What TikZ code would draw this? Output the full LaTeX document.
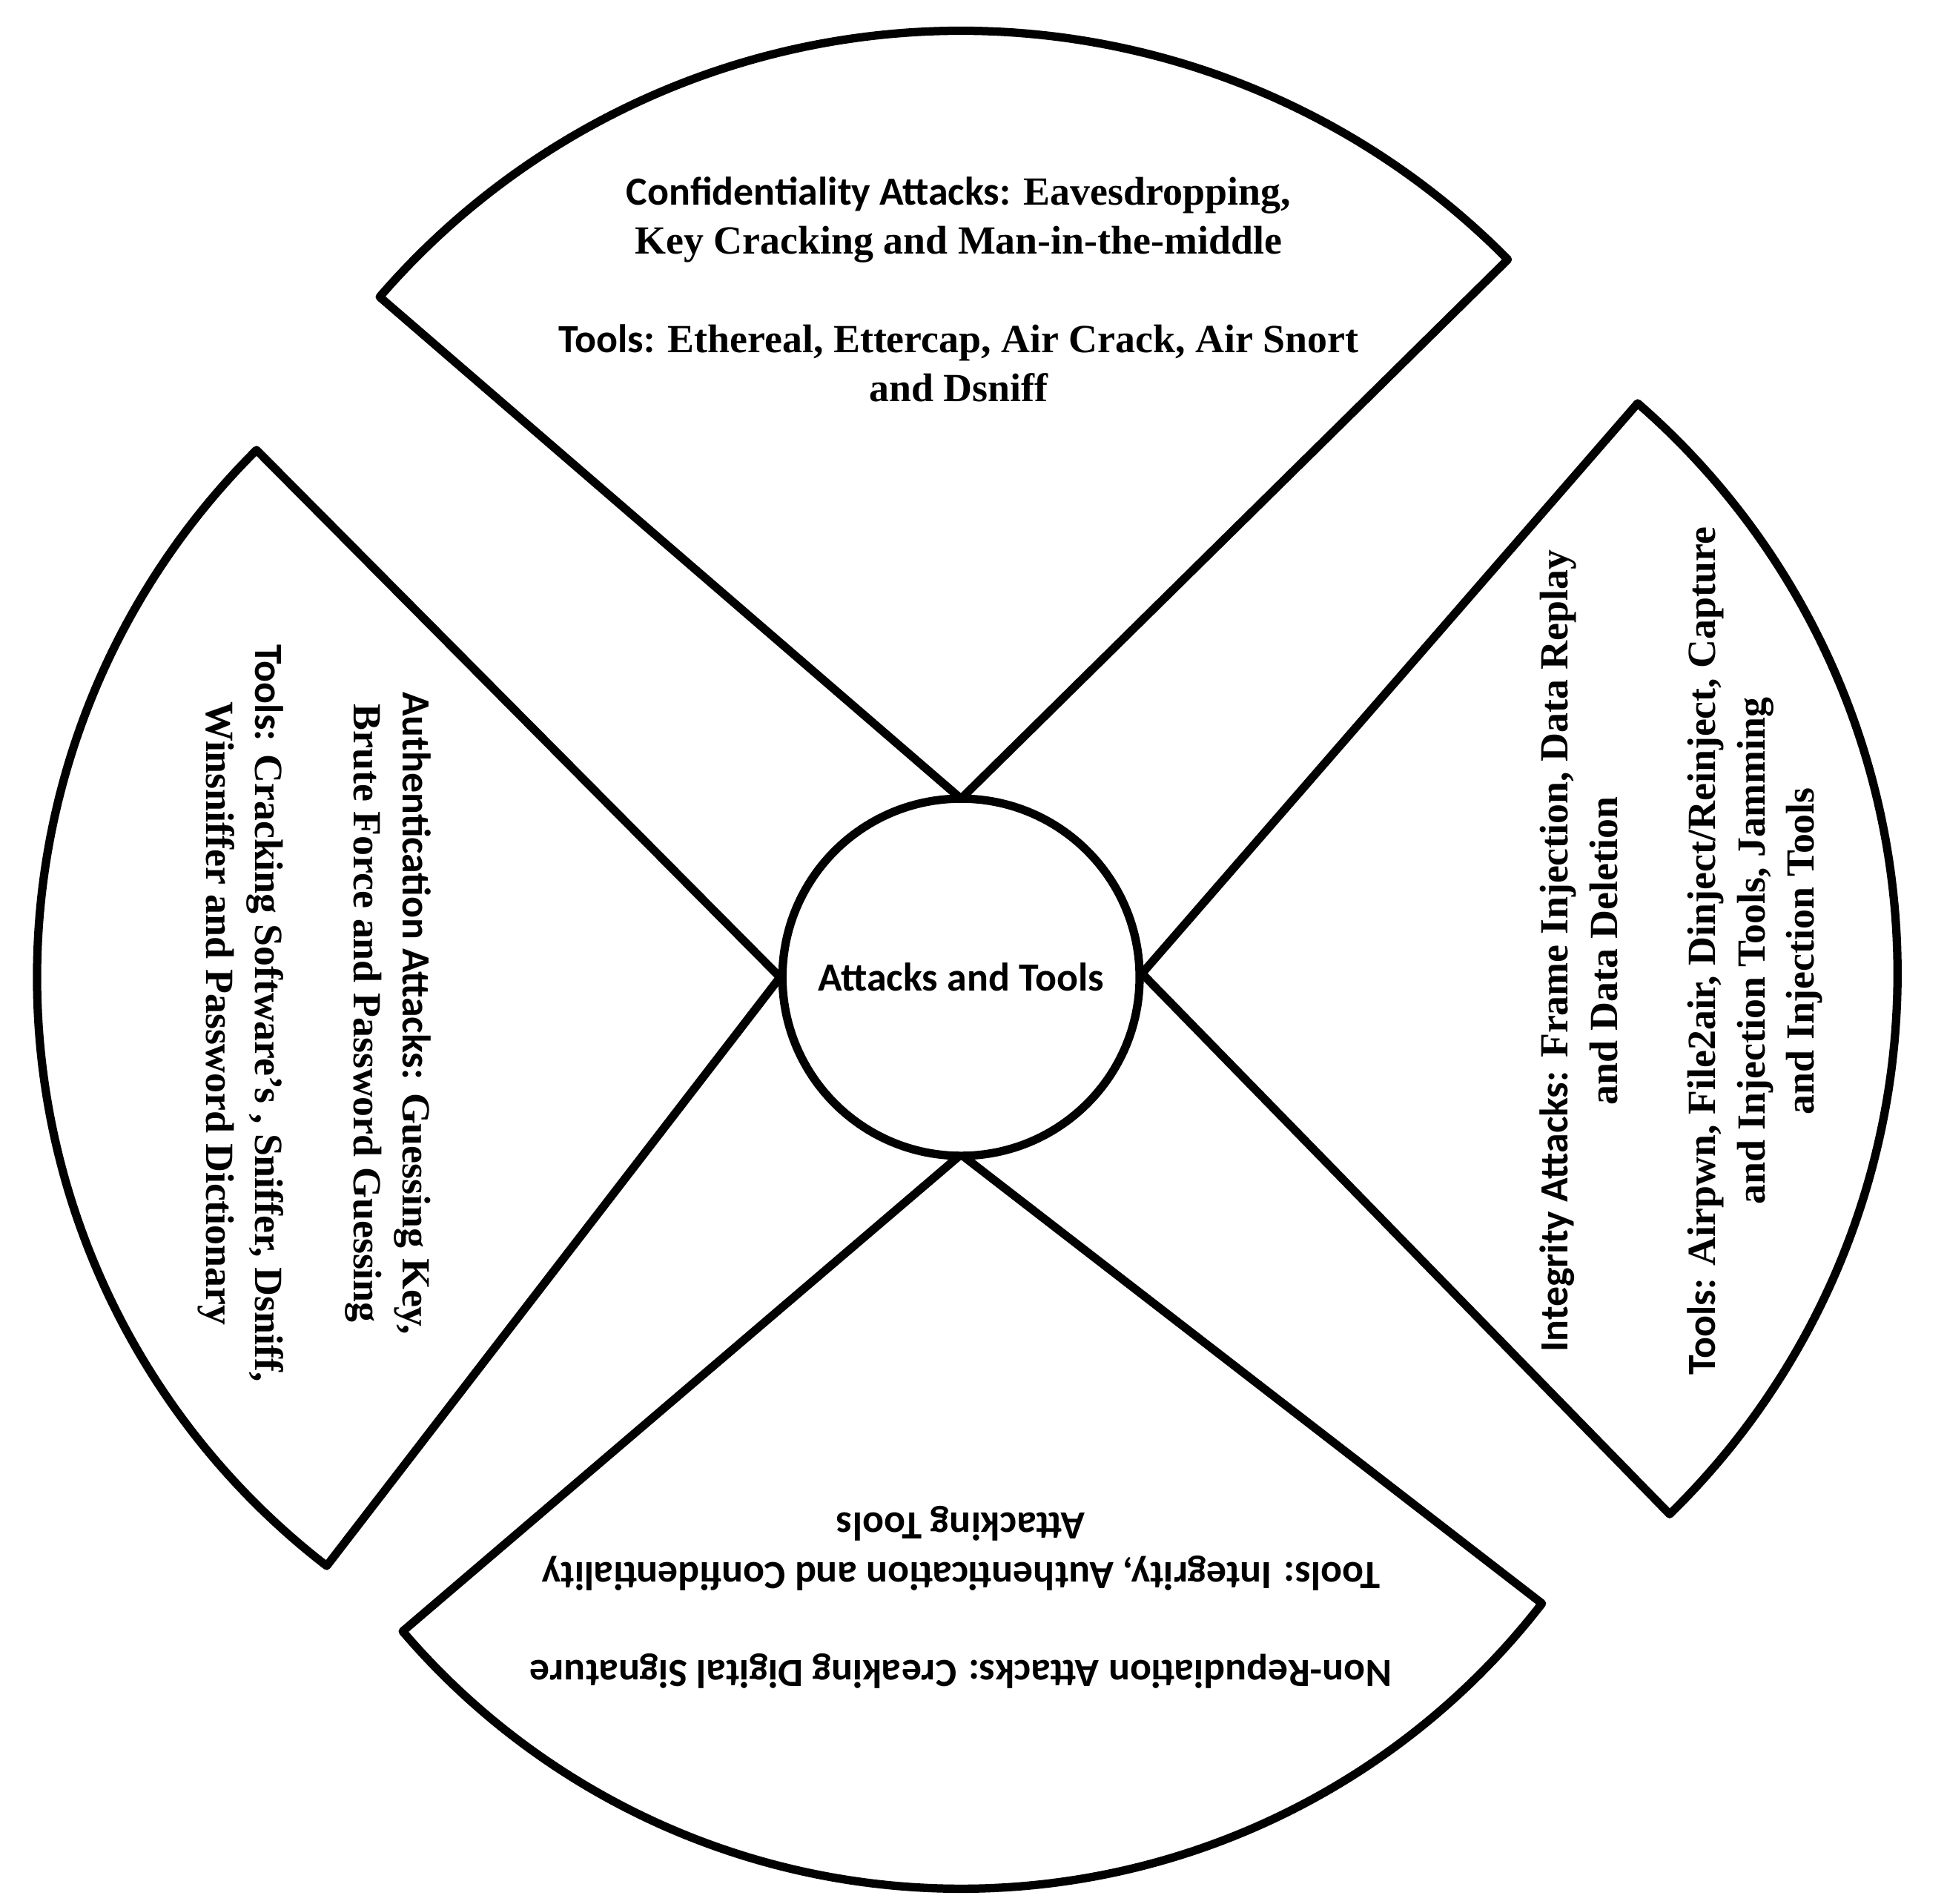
\documentclass[tikz,border=0pt]{standalone}
\usepackage{fontspec}
\setmainfont{Liberation Serif}
\newfontfamily\cbr{Carlito}
\begin{document}
\begin{tikzpicture}[x=0.01cm,y=-0.01cm,
  sec/.style={line width=1.9pt,line join=round},
  txt/.style={align=center,font=\bfseries\fontsize{9.1}{11.2}\selectfont,inner sep=0pt}]
\useasboundingbox (0,0) rectangle (1560,1525.5);
\coordinate (at) at (770,640);
\coordinate (ar) at (915,780);
\coordinate (ab) at (770,925);
\coordinate (al) at (625,783);
\draw[sec] (at) -- ++(139.2:6.15cm) arc[start angle=139.2,end angle=44.6,radius=6.15cm] -- cycle;
\draw[sec] (ar) -- ++(49:6.05cm) arc[start angle=49,end angle=-45.7,radius=6.05cm] -- cycle;
\draw[sec] (ab) -- ++(-37.7:5.88cm) arc[start angle=-37.7,end angle=-139.5,radius=5.88cm] -- cycle;
\draw[sec] (al) -- ++(134.8:5.95cm) arc[start angle=134.8,end angle=232.4,radius=5.95cm] -- cycle;
\node[sec,draw,circle,minimum size=2.86cm,fill=white,txt] (c) at (770,783) {\cbr Attacks and Tools};
\node[txt] (t) at (768,232) {{\cbr Confidentiality Attacks:} Eavesdropping,\\Key Cracking and Man-in-the-middle\\[11.2pt]{\cbr Tools:} Ethereal, Ettercap, Air Crack, Air Snort\\and Dsniff};
\node[txt,rotate=-90] (l) at (252,812) {{\cbr Authentication Attacks:} Guessing Key,\\Brute Force and Password Guessing\\[11.2pt]{\cbr Tools:} Cracking Software's , Sniffer, Dsniff,\\Winsniffer and Password Dictionary};
\node[txt,rotate=90] (r) at (1347,762) {{\cbr Integrity Attacks:} Frame Injection, Data Replay\\and Data Deletion\\[11.2pt]{\cbr Tools:} Airpwn, File2air, Dinject/Reinject, Capture\\and Injection Tools, Jamming\\and Injection Tools};
\node[txt,rotate=180,font=\cbr\bfseries\fontsize{9.1}{11.2}\selectfont] (b) at (770,1280) {Non-Repudiation Attacks: Creaking Digital Signature\\[11.2pt]Tools: Integrity, Authentication and Confidentiality\\Attacking Tools};
\end{tikzpicture}
\end{document}
